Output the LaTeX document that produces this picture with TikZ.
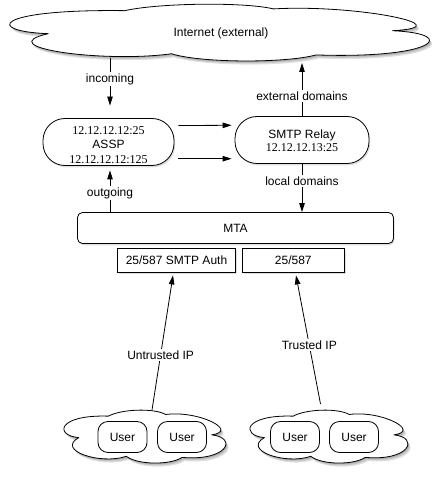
\documentclass[tikz,border=0pt]{standalone}
\usepackage{fontspec}
\setmainfont{Liberation Sans}
\newfontfamily\tms{Liberation Serif}
\usetikzlibrary{arrows.meta,shadows,calc}
\newcommand{\fs}{\fontsize{12pt}{14pt}\selectfont}
\newcommand{\cloudat}[4]{%
  \foreach \s in {1,2,3}{%
    \begin{scope}[shift={(#1+\s*0.9,#2+\s*1.2)},xscale=#3,yscale=#4]
      \fill[black,opacity=0.12] (0.09,0.52) .. controls (-0.06,0.48) and (-0.04,0.10) .. (0.27,0.13)
        .. controls (0.35,0.0) and (0.55,-0.02) .. (0.62,0.10)
        .. controls (0.82,0.02) and (1.07,0.40) .. (0.90,0.47)
        .. controls (1.06,0.52) and (1.0,0.95) .. (0.72,0.88)
        .. controls (0.65,1.02) and (0.45,1.02) .. (0.38,0.86)
        .. controls (0.22,1.02) and (-0.05,0.75) .. (0.09,0.52) -- cycle;
    \end{scope}}%
  \begin{scope}[shift={(#1,#2)},xscale=#3,yscale=#4]
    \draw[line width=0.8pt,fill=white,line join=round] (0.09,0.52) .. controls (-0.06,0.48) and (-0.04,0.10) .. (0.27,0.13)
      .. controls (0.35,0.0) and (0.55,-0.02) .. (0.62,0.10)
      .. controls (0.82,0.02) and (1.07,0.40) .. (0.90,0.47)
      .. controls (1.06,0.52) and (1.0,0.95) .. (0.72,0.88)
      .. controls (0.65,1.02) and (0.45,1.02) .. (0.38,0.86)
      .. controls (0.22,1.02) and (-0.05,0.75) .. (0.09,0.52) -- cycle;
  \end{scope}}
\tikzset{
  sh/.style={drop shadow={opacity=0.25,shadow xshift=1.2pt,shadow yshift=-1.8pt}},
  rbox/.style={draw,line width=0.8pt,fill=white,sh,inner sep=0pt},
  pbox/.style={rbox,minimum height=24pt},
  user/.style={draw,line width=0.8pt,fill=white,rounded corners=10pt,minimum width=49pt,minimum height=31pt,inner sep=0pt,font=\fs},
  txt/.style={inner sep=0pt,font=\fs},
  lbl/.style={fill=white,inner sep=1.5pt,font=\fs},
  arr/.style={-{Triangle[length=9pt,width=5.5pt]},line width=0.8pt}
}
\begin{document}
\begin{tikzpicture}[x=1pt,y=-1pt]
\useasboundingbox (0,0) rectangle (441,478);
% top cloud
\cloudat{10}{3}{425}{59}
\node[txt] (inet) at (221,33) {Internet (external)};
\coordinate (inetin) at (110,58);
\coordinate (inetout) at (302,63);
% ASSP
\node[rbox,rounded corners=22pt,minimum width=131pt,minimum height=47pt] (assp) at (108.5,142) {};
\node[txt] (assp1) at (108.5,131) {\tms 12.12.12.12:25};
\node[txt] (assp2) at (108.5,144) {ASSP};
\node[txt] (assp3) at (108.5,160) {\tms 12.12.12.12:125};
% relay
\node[rbox,rounded corners=22pt,minimum width=134pt,minimum height=47pt] (relay) at (302,140) {};
\node[txt] (relay1) at (302,135) {SMTP Relay};
\node[txt] (relay2) at (302,148) {\tms 12.12.12.13:25};
% MTA
\node[rbox,rounded corners=5pt,minimum width=316pt,minimum height=31pt,font=\fs] (mta) at (235.5,228) {MTA};
\node[pbox,minimum width=118pt,font=\fs] (auth) at (176.5,260) {25/587 SMTP Auth};
\node[pbox,minimum width=102pt,font=\fs] (plain) at (293.3,260) {25/587};
% bottom clouds
\cloudat{64}{409}{164}{55}
\cloudat{250}{409}{160}{55}
\node[user] (u1) at (122.5,437) {User};
\node[user] (u2) at (182,437) {User};
\node[user] (u3) at (295,437) {User};
\node[user] (u4) at (354,437) {User};
\coordinate (lcout) at (152,410);
\coordinate (rcout) at (320.5,404);
% connectors
\draw[arr] (inetin) -- node[lbl,pos=0.44] (lin) {incoming} ([shift={(1.5,-12.5)}]assp.north);
\draw[arr] (relay.north) -- node[lbl,pos=0.38] (lext) {external domains} (inetout);
\draw[arr] (relay.south) -- node[lbl,pos=0.36] (lloc) {local domains} (relay.south |- mta.north);
\draw[arr] ([xshift=1.5pt]assp.south |- mta.north) -- node[lbl,pos=0.46] (lout) {outgoing} ([shift={(1.5,4.5)}]assp.south);
\draw[arr] ([shift={(4,-16.5)}]assp.east) -- ([shift={(-3,-14.7)}]relay.west);
\draw[arr] ([shift={(4,16.7)}]assp.east) -- ([shift={(-3,18.7)}]relay.west);
\draw[arr] (lcout) -- node[lbl,pos=0.41] (lun) {Untrusted IP} ([shift={(-3.5,3)}]auth.south);
\draw[arr] (rcout) -- node[lbl,pos=0.457] (ltr) {Trusted IP} ([shift={(2.7,3)}]plain.south);
\end{tikzpicture}
\end{document}
